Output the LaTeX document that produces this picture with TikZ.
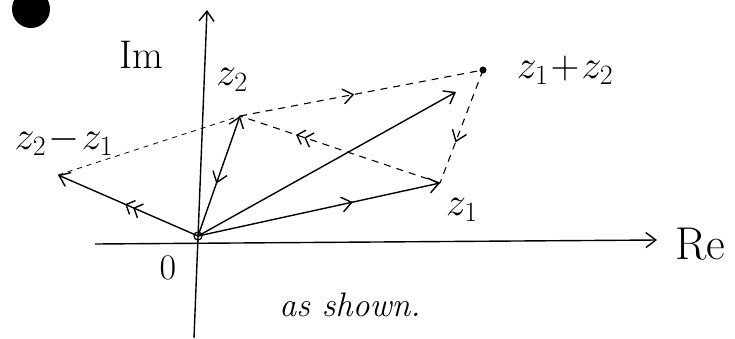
\RequirePackage{fix-cm}
\documentclass[tikz,border=0pt]{standalone}
\usepackage{fontspec}
\usetikzlibrary{arrows.meta,decorations.markings}
\begin{document}
\begin{tikzpicture}[x=1pt,y=-1pt,
  lbl/.style={font=\fontsize{40}{44}\selectfont, inner sep=0pt},
  solidvec/.style={line width=1.4pt},
  dashvec/.style={line width=1.1pt, dash pattern=on 7pt off 6pt},
  tip/.style={-{Straight Barb[length=10pt,width=15pt,line width=1.4pt]}},
  midarrow/.style={postaction={decorate},decoration={markings,
     mark=at position #1 with {\arrow[solid]{Straight Barb[length=10pt,width=15pt,line width=1.4pt]}}}},
  midback/.style={postaction={decorate},decoration={markings,
     mark=at position #1 with {\arrow[solid]{Straight Barb[reversed,length=10pt,width=15pt,line width=1.4pt]}}}},
  middouble/.style={postaction={decorate},decoration={markings,
     mark=at position #1 with {\arrow[solid]{Straight Barb[length=7pt,width=15pt,line width=1.4pt]Straight Barb[length=7pt,width=15pt,line width=1.4pt]}}}}
]
\useasboundingbox (0,0) rectangle (735,338);
% blob
\fill (31,9) circle (19);
% axes
\coordinate (ImB) at (194,338);
\coordinate (ImT) at (207,10);
\coordinate (ReL) at (95,244);
\coordinate (ReR) at (657,240);
\draw[solidvec, tip] (ImB) -- (ImT);
\draw[solidvec, tip] (ReL) -- (ReR);
% points
\coordinate (O) at (198,236);
\coordinate (A) at (440,183);
\coordinate (B) at (240,116);
\coordinate (S) at (483,70);
\coordinate (Send) at (456,92);
\coordinate (D) at (58,175);
\draw[line width=1.2pt] (O) circle (4);
\fill (S) circle (3.5);
% solid vectors
\draw[solidvec, tip, midarrow=0.64] (O) -- (A);
\draw[solidvec, tip, midback=0.53] (O) -- (B);
\draw[solidvec, tip] (O) -- (Send);
\draw[solidvec, tip, middouble=0.52] (O) -- (D);
% dashed
\draw[dashvec, midarrow=0.47] (B) -- (S);
\draw[line width=0.8pt, dash pattern=on 5pt off 5pt] (D) -- (B);
\draw[dashvec, middouble=0.72] (A) -- (B);
\draw[dashvec, midarrow=0.64] (S) -- (A);
% labels
\node[lbl] (lIm) at (141,55) {$\mathrm{Im}$};
\node[lbl, font=\fontsize{46}{50}\selectfont] (lRe) at (700,244) {$\mathrm{Re}$};
\node[lbl, font=\fontsize{36}{40}\selectfont] (lO) at (168,268) {$0$};
\node[lbl] (lz2) at (232,80) {$z_2$};
\node[lbl] (lz1) at (462,210) {$z_1$};
\node[lbl] (lsum) at (565,70) {$z_1\!+\!z_2$};
\node[lbl] (ldiff) at (64,141) {$z_2\!-\!z_1$};
\node[lbl, font=\fontsize{34}{38}\selectfont] (las) at (350,305) {\itshape as shown.};
\end{tikzpicture}
\end{document}
